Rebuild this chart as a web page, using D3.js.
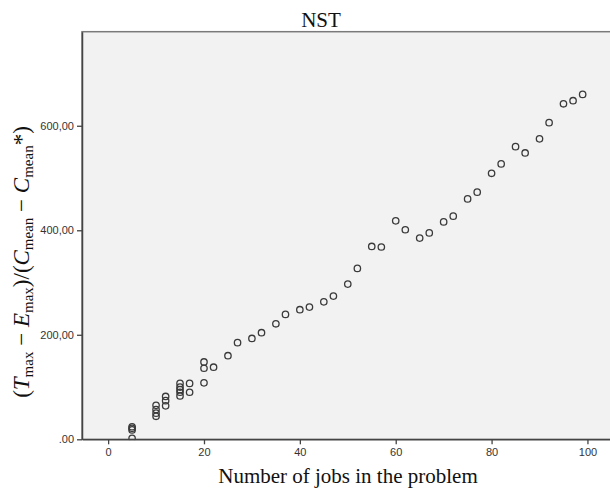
<!DOCTYPE html>
<html>
<head>
<meta charset="utf-8">
<script src="https://cdn.jsdelivr.net/npm/d3@7"></script>
<style>
  body { margin: 0; background: #fff; }
</style>
</head>
<body>
<script>
// jobs in the problem vs (Tmax - Emax)/(Cmean - Cmean*)
const jobs = [5, 5, 5, 5, 10, 10, 10, 10, 12, 12, 12, 15, 15, 15, 15, 15, 17, 17,
    20, 20, 20, 22, 25, 27, 30, 32, 35, 37, 40, 42, 45, 47, 50, 52, 55, 57,
    60, 62, 65, 67, 70, 72, 75, 77, 80, 82, 85, 87, 90, 92, 95, 97, 99];
const ratio = [24, 21, 18, 2, 65, 57, 50, 44, 82, 74, 64, 107, 100, 95, 90, 83, 107, 90,
    148, 136, 108, 138, 160, 185, 193, 204, 221, 239, 248, 253, 263, 274, 297, 327, 369, 368,
    418, 401, 385, 395, 416, 427, 460, 473, 509, 527, 560, 548, 575, 606, 642, 648, 660];
const xTicks = [0, 20, 40, 60, 80, 100];
const yTicks = [0, 200, 400, 600];
const yTickLabels = [".00", "200,00", "400,00", "600,00"];

function main(){
    const canvasWidth = 610;
    const canvasHeight = 490;

    const svg = d3.select("body").append("svg")
        .attr("width", canvasWidth)
        .attr("height", canvasHeight);

    const left = 82, top = 31.7, bottom = 439.3, right = 621;

    const xScale = d3.scaleLinear().domain([-5.45, 107]).range([left, right]);
    const yScale = d3.scaleLinear().domain([0, 780]).range([bottom, top]);

    // plot frame
    svg.append("rect")
        .attr("x", left)
        .attr("y", top)
        .attr("width", right - left)
        .attr("height", bottom - top)
        .attr("fill", "#f2f2f2")
        .attr("stroke", "#7a7a7a")
        .attr("stroke-width", 1.5);

    svg.append("text")
        .attr("x", 321)
        .attr("y", 26.7)
        .attr("text-anchor", "middle")
        .attr("font-family", "Liberation Serif, Times New Roman, serif")
        .attr("font-size", "21px")
        .attr("fill", "#111")
        .text("NST");

    const yAxis = svg.append("g")
        .attr("transform", "translate(" + left + ",0)")
        .call(d3.axisLeft(yScale).tickValues(yTicks)
            .tickFormat((d, i) => yTickLabels[i]).tickSize(5).tickSizeOuter(0).tickPadding(3));

    const xAxis = svg.append("g")
        .attr("transform", "translate(0," + bottom + ")")
        .call(d3.axisBottom(xScale).tickValues(xTicks).tickSize(5).tickSizeOuter(0).tickPadding(4));

    [xAxis, yAxis].forEach(g => {
        g.select(".domain").attr("stroke", "#444").attr("stroke-width", 1.5);
        g.selectAll(".tick line").attr("stroke", "#444").attr("stroke-width", 1.3);
        g.selectAll(".tick text")
            .attr("fill", "#333")
            .attr("font-family", "Liberation Sans, Arial, sans-serif")
            .attr("font-size", "11px");
    });

    const data = jobs.map((d, i) => ({x: d, y: ratio[i]}));

    svg.append("g")
        .selectAll("circle")
        .data(data)
        .join("circle")
        .attr("cx", d => xScale(d.x))
        .attr("cy", d => yScale(d.y))
        .attr("r", 3.2)
        .attr("fill", "none")
        .attr("stroke", "#3a3a3a")
        .attr("stroke-width", 1.3);

    // hide the part of markers below the axis, then bring the axis back on top
    svg.append("rect")
        .attr("x", left)
        .attr("y", bottom + 0.8)
        .attr("width", right - left)
        .attr("height", 6)
        .attr("fill", "#fff");
    svg.node().appendChild(xAxis.node());
    svg.node().appendChild(yAxis.node());

    svg.append("text")
        .attr("x", 348)
        .attr("y", 483)
        .attr("text-anchor", "middle")
        .attr("font-family", "Liberation Serif, Times New Roman, serif")
        .attr("font-size", "21px")
        .attr("fill", "#111")
        .text("Number of jobs in the problem");

    const ylab = svg.append("text")
        .attr("transform", "translate(29,262) rotate(-90)")
        .attr("text-anchor", "middle")
        .attr("font-family", "Liberation Serif, Times New Roman, serif")
        .attr("font-size", "23px")
        .attr("fill", "#111");

    const parts = [
        ["(", "n"], ["T", "i"], ["max", "s"], [" − ", "n"], ["E", "i"], ["max", "s"],
        [")/(", "n"], ["C", "i"], ["mean", "s"], [" − ", "n"], ["C", "i"], ["mean", "s"],
        ["*", "n"], [")", "n"]
    ];
    let shifted = false;
    parts.forEach(p => {
        const t = ylab.append("tspan").text(p[0]);
        if (p[1] === "i") t.attr("font-style", "italic");
        if (p[1] === "s") {
            t.attr("font-size", "15px").attr("dy", 4);
            shifted = true;
        } else if (shifted) {
            t.attr("dy", -4);
            shifted = false;
        }
    });
}
main();
</script>
</body>
</html>
